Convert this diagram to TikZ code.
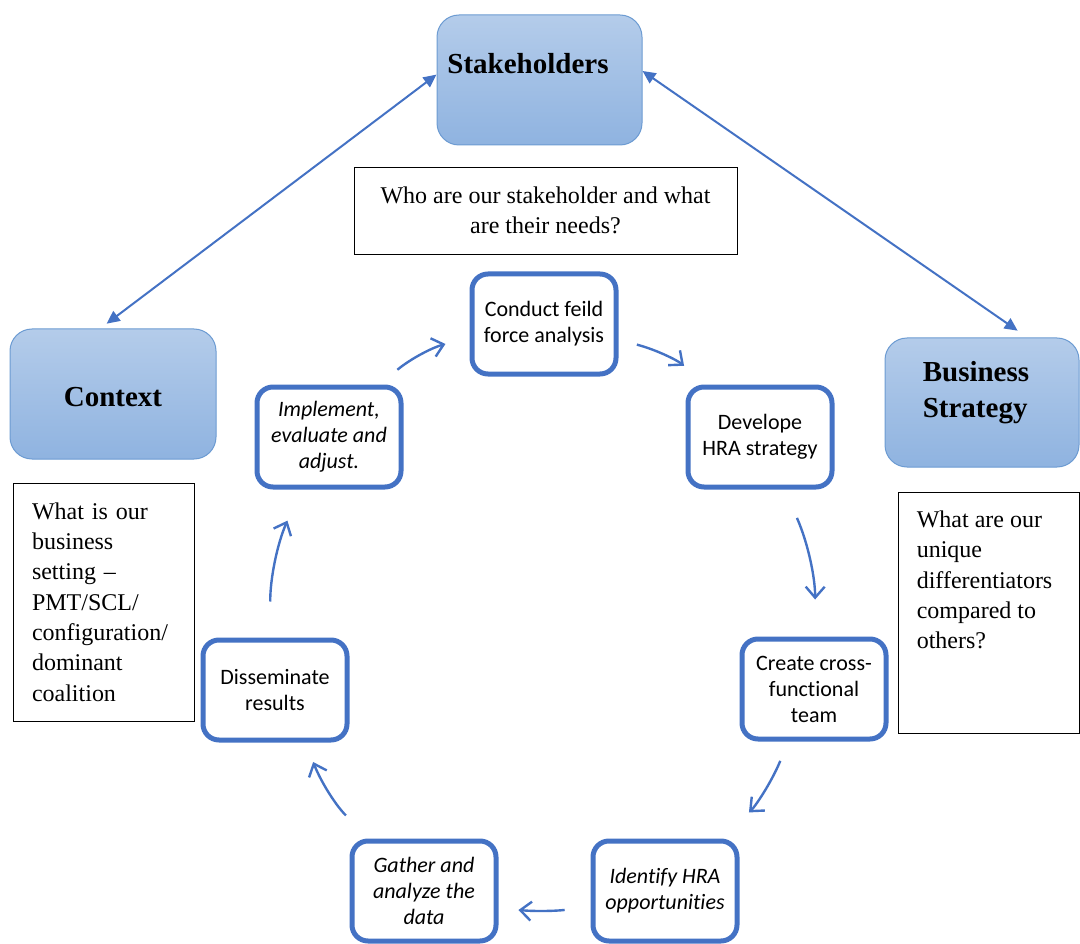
\documentclass[tikz,border=0pt]{standalone}
\usepackage{fontspec}
\setmainfont{Liberation Serif}
\newfontfamily\calibfont[Ligatures=NoCommon]{Carlito}
\usetikzlibrary{arrows.meta}

\definecolor{stepblue}{HTML}{4472C4}
\definecolor{hubtop}{HTML}{B4CCEA}
\definecolor{hubbot}{HTML}{8FB3E0}
\definecolor{hubline}{HTML}{6C9BD2}

\begin{document}
\begin{tikzpicture}[x=1pt, y=-1pt,
  hub/.style={draw=hubline, line width=1pt, rounded corners=22pt, top color=hubtop, bottom color=hubbot, minimum width=205pt, minimum height=130pt},
  hubtext/.style={font=\fontsize{29}{36}\selectfont\bfseries, align=left},
  stepbox/.style={draw=stepblue, line width=5pt, rounded corners=16pt, fill=white, minimum width=144pt, minimum height=100pt, align=center, font=\calibfont\fontsize{22}{26}\selectfont},
  stepit/.style={stepbox, font=\calibfont\itshape\fontsize{22}{26}\selectfont},
  qbox/.style={draw=black, line width=0.8pt, font=\fontsize{24}{30.3}\selectfont},
  link/.style={draw=stepblue, line width=2pt, {Triangle[length=13pt,width=12pt]}-{Triangle[length=13pt,width=12pt]}},
  cyc/.style={draw=stepblue, line width=2.4pt, -{Straight Barb[length=11pt,width=19pt]}}]
\useasboundingbox (0,0) rectangle (1080,944);
%%------------ outer boxes
\node[hub, label={[hubtext, xshift=-11.5pt, yshift=16pt]center:Stakeholders}] (stake) at (539.5,80) {};
\node[hub, minimum width=206pt, label={[hubtext, yshift=-3pt]center:Context}] (ctx) at (113,394) {};
\node[hub, minimum width=194pt, minimum height=129pt, label={[hubtext, xshift=-6pt, yshift=10pt]center:Business\\Strategy}] (biz) at (982,402.5) {};
\draw[link] (stake.177) -- (ctx.101) [shorten >=8pt];
\draw[link, shorten >=12pt] (stake.5.6) -- (biz.55);
%%------------ questions
\node[qbox, minimum width=383pt, minimum height=87pt, align=center] (askbox) at (545.5,210.5) {Who are our stakeholder and what\\are their needs?};
\node[qbox, minimum height=238pt, inner xsep=19pt, inner ysep=0pt, text width=143pt, align=left] (settingbox) at (103.5,602) {What is our\\business\\setting --\\PMT/SCL/\\configuration/\\dominant\\coalition};
\node[qbox, minimum width=181pt, minimum height=241pt, label={[anchor=north west, inner sep=19pt, align=left, font=\fontsize{24}{30.3}\selectfont]north west:What are our\\unique\\differentiators\\compared to\\others?}] (diffbox) at (988.5,612.5) {};
%%------------ cycle
\node[stepbox] (cond) at (544,324) {Conduct feild\\force analysis};
\node[stepbox] (dev) at (760,437) {Develope\\HRA strategy};
\node[stepbox] (team) at (814,689) {Create cross-\\functional\\team};
\node[stepit] (ident) at (665,891) {Identify HRA\\opportunities};
\node[stepit] (gather) at (424,891) {Gather and\\analyze the\\data};
\node[stepbox] (dissem) at (275,690) {Disseminate\\results};
\node[stepit] (impl) at (329,437) {Implement,\\evaluate and\\adjust.};
\draw[cyc, shorten <=23pt, shorten >=25pt] (impl.46) to[bend left=12] (cond.190);
\draw[cyc, shorten <=19pt, shorten >=30pt] (cond.-12) to[bend left=12] (dev.135);
\draw[cyc, shorten <=31pt, shorten >=37pt] (dev.-65) to[bend left=12] (team.89);
\draw[cyc, shorten <=21pt, shorten >=38pt] (team.244) to[bend left=12] (ident.43);
\draw[cyc, shorten <=26pt, shorten >=20pt] (ident.192) to[bend left=6] (gather.-13);
\draw[cyc, shorten <=33pt, shorten >=21pt] (gather.136) to[bend left=12] (dissem.-60);
\draw[cyc, shorten <=36pt, shorten >=34pt] (dissem.95) to[bend left=12] (impl.242);
\end{tikzpicture}
\end{document}
